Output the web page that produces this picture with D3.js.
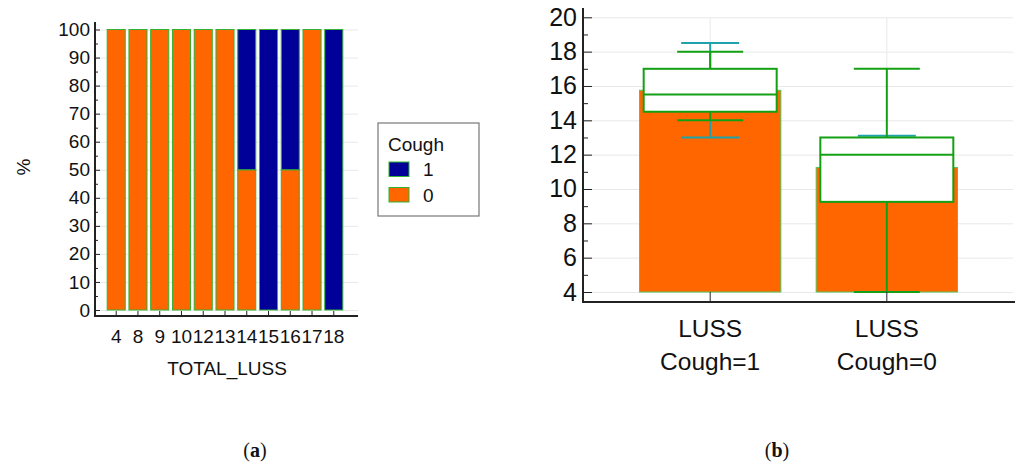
<!DOCTYPE html>
<html>
<head>
<meta charset="utf-8">
<script src="https://cdn.jsdelivr.net/npm/d3@7"></script>
<style>
  body { margin: 0; background: #fff; }
  svg { display: block; font-family: "Liberation Sans", Arial, sans-serif; }
</style>
</head>
<body>
<div id="chart"></div>
<script>
// (a) stacked percentage bars per TOTAL_LUSS score
const lussScores = ["4", "8", "9", "10", "12", "13", "14", "15", "16", "17", "18"];
const coughZeroPct = [100, 100, 100, 100, 100, 100, 50, 0, 50, 100, 0];
const coughOnePct  = [0, 0, 0, 0, 0, 0, 50, 100, 50, 0, 100];
const pctTicks = [0, 10, 20, 30, 40, 50, 60, 70, 80, 90, 100];

// (b) LUSS by cough group: mean bar, CI of mean, box and whiskers
const groups      = ["Cough=1", "Cough=0"];
const meanLuss    = [15.75, 11.25];
const ciLow       = [13, 9.4];
const ciHigh      = [18.5, 13.1];
const q1          = [14.5, 9.25];
const medianLuss  = [15.5, 12];
const q3          = [17, 13];
const whiskLow    = [14, 4];
const whiskHigh   = [18, 17];
const lussTicks   = [4, 6, 8, 10, 12, 14, 16, 18, 20];

const orange = "#ff6600", navy = "#000099", green = "#14a014", teal = "#1fa3aa";
const gridCol = "#e8e8e8", axisCol = "#222";

const svg = d3.select("#chart").append("svg")
    .attr("width", 1016)
    .attr("height", 465);

// ---------- panel (a) ----------
const a = svg.append("g");
const xA = d3.scaleBand().domain(lussScores).range([105, 345]).paddingInner(0.17).paddingOuter(0.1);
const yA = d3.scaleLinear().domain([0, 100]).range([310, 29.5]);

// gridlines
a.append("g")
    .attr("transform", "translate(95,0)")
    .call(d3.axisLeft(yA).tickValues(pctTicks).tickSize(-263).tickFormat(""))
    .call(g => g.select(".domain").remove())
    .selectAll("line").attr("stroke", gridCol);

const stackA = lussScores.map((s, i) => ({ score: s, zero: coughZeroPct[i], one: coughOnePct[i] }));

// orange part (Cough 0) at bottom
a.selectAll("rect.zero")
    .data(stackA.filter(d => d.zero > 0))
    .enter().append("rect")
    .attr("class", "zero")
    .attr("x", d => xA(d.score))
    .attr("y", d => yA(d.zero))
    .attr("width", xA.bandwidth())
    .attr("height", d => yA(0) - yA(d.zero))
    .attr("fill", orange)
    .attr("stroke", "#33b233")
    .attr("stroke-width", 1);

// navy part (Cough 1) stacked above
a.selectAll("rect.one")
    .data(stackA.filter(d => d.one > 0))
    .enter().append("rect")
    .attr("class", "one")
    .attr("x", d => xA(d.score))
    .attr("y", d => yA(d.zero + d.one))
    .attr("width", xA.bandwidth())
    .attr("height", d => yA(d.zero) - yA(d.zero + d.one))
    .attr("fill", navy)
    .attr("stroke", "#33b233")
    .attr("stroke-width", 1);

// y axis (ticks pointing inward, minor ticks every 5)
a.append("g")
    .attr("transform", "translate(95,0)")
    .call(d3.axisLeft(yA).tickValues(d3.range(5, 100, 10)).tickSize(-3).tickFormat(""))
    .call(g => g.select(".domain").remove())
    .selectAll("line").attr("stroke", axisCol);

a.append("g")
    .attr("transform", "translate(95,0)")
    .call(d3.axisLeft(yA).tickValues(pctTicks).tickSize(-5).tickPadding(5))
    .call(g => g.select(".domain").remove())
    .call(g => g.selectAll("line").attr("stroke", axisCol))
    .selectAll("text")
    .style("font-size", "19px")
    .attr("fill", "#111");

// x axis
a.append("g")
    .attr("transform", "translate(0,316)")
    .call(d3.axisBottom(xA).tickSize(-5).tickPadding(14))
    .call(g => g.select(".domain").remove())
    .call(g => g.selectAll("line").attr("stroke", axisCol))
    .selectAll("text")
    .style("font-size", "19px")
    .attr("fill", "#111");

a.append("line").attr("x1", 95).attr("x2", 95).attr("y1", 22).attr("y2", 317)
    .attr("stroke", axisCol).attr("stroke-width", 2);
a.append("line").attr("x1", 94).attr("x2", 358).attr("y1", 316).attr("y2", 316)
    .attr("stroke", axisCol).attr("stroke-width", 2);

a.append("text")
    .attr("x", 227).attr("y", 375)
    .attr("text-anchor", "middle")
    .style("font-size", "19px")
    .attr("fill", "#111")
    .text("TOTAL_LUSS");

a.append("text")
    .attr("transform", "translate(30,167) rotate(-90)")
    .attr("text-anchor", "middle")
    .style("font-size", "19px")
    .attr("fill", "#111")
    .text("%");

// legend
const legend = a.append("g");
legend.append("rect")
    .attr("x", 378).attr("y", 123).attr("width", 101).attr("height", 93)
    .attr("fill", "#fff").attr("stroke", "#777").attr("stroke-width", 1.2);
legend.append("text")
    .attr("x", 388).attr("y", 151)
    .style("font-size", "19px").attr("fill", "#111")
    .text("Cough");
const legendItems = [{ label: "1", color: navy, y: 162 }, { label: "0", color: orange, y: 187.5 }];
legend.selectAll("rect.sw")
    .data(legendItems)
    .enter().append("rect")
    .attr("class", "sw")
    .attr("x", 389).attr("y", d => d.y)
    .attr("width", 20).attr("height", 14.5)
    .attr("fill", d => d.color)
    .attr("stroke", "#33b233").attr("stroke-width", 1);
legend.selectAll("text.lab")
    .data(legendItems)
    .enter().append("text")
    .attr("class", "lab")
    .attr("x", 423).attr("y", d => d.y + 14)
    .style("font-size", "19px").attr("fill", "#111")
    .text(d => d.label);

// ---------- panel (b) ----------
const b = svg.append("g");
const xB = d3.scaleBand().domain(groups).range([583, 1014]).paddingInner(0.2).paddingOuter(0.32);
const yB = d3.scaleLinear().domain([4, 20]).range([292, 17.3]);
const cx = g => xB(g) + xB.bandwidth() / 2;

// gridlines
b.append("g")
    .attr("transform", "translate(583,0)")
    .call(d3.axisLeft(yB).tickValues(lussTicks).tickSize(-430).tickFormat(""))
    .call(g => g.select(".domain").remove())
    .selectAll("line").attr("stroke", gridCol);
b.selectAll("line.vgrid")
    .data(groups)
    .enter().append("line")
    .attr("class", "vgrid")
    .attr("x1", cx).attr("x2", cx)
    .attr("y1", 18).attr("y2", 292)
    .attr("stroke", gridCol);

const boxData = groups.map((g, i) => ({
    group: g, mean: meanLuss[i], ciL: ciLow[i], ciH: ciHigh[i],
    q1: q1[i], med: medianLuss[i], q3: q3[i], wL: whiskLow[i], wH: whiskHigh[i]
}));

const grp = b.selectAll("g.grp")
    .data(boxData)
    .enter().append("g")
    .attr("class", "grp");

// mean bar
grp.append("rect")
    .attr("x", d => xB(d.group))
    .attr("y", d => yB(d.mean))
    .attr("width", xB.bandwidth())
    .attr("height", d => yB(4) - yB(d.mean))
    .attr("fill", orange)
    .attr("stroke", "#55c455")
    .attr("stroke-width", 1);

// confidence interval of the mean (teal)
grp.append("line")
    .attr("x1", d => cx(d.group)).attr("x2", d => cx(d.group))
    .attr("y1", d => yB(d.ciL)).attr("y2", d => yB(d.ciH))
    .attr("stroke", teal).attr("stroke-width", 2);
["ciL", "ciH"].forEach(k => {
    grp.append("line")
        .attr("x1", d => cx(d.group) - 29).attr("x2", d => cx(d.group) + 29)
        .attr("y1", d => yB(d[k])).attr("y2", d => yB(d[k]))
        .attr("stroke", teal).attr("stroke-width", 2);
});

// whiskers (green)
grp.append("line")
    .attr("x1", d => cx(d.group)).attr("x2", d => cx(d.group))
    .attr("y1", d => yB(d.q3)).attr("y2", d => yB(d.wH))
    .attr("stroke", green).attr("stroke-width", 2);
grp.append("line")
    .attr("x1", d => cx(d.group)).attr("x2", d => cx(d.group))
    .attr("y1", d => yB(d.q1)).attr("y2", d => yB(d.wL))
    .attr("stroke", green).attr("stroke-width", 2);
["wL", "wH"].forEach(k => {
    grp.append("line")
        .attr("x1", d => cx(d.group) - 33).attr("x2", d => cx(d.group) + 33)
        .attr("y1", d => yB(d[k])).attr("y2", d => yB(d[k]))
        .attr("stroke", green).attr("stroke-width", 2);
});

// box
grp.append("rect")
    .attr("x", d => cx(d.group) - 66.5)
    .attr("y", d => yB(d.q3))
    .attr("width", 133)
    .attr("height", d => yB(d.q1) - yB(d.q3))
    .attr("fill", "#fff")
    .attr("stroke", green)
    .attr("stroke-width", 2);
grp.append("line")
    .attr("x1", d => cx(d.group) - 66.5).attr("x2", d => cx(d.group) + 66.5)
    .attr("y1", d => yB(d.med)).attr("y2", d => yB(d.med))
    .attr("stroke", green).attr("stroke-width", 2);

// y axis
b.append("g")
    .attr("transform", "translate(583,0)")
    .call(d3.axisLeft(yB).tickValues(d3.range(5, 20, 2)).tickSize(-5).tickFormat(""))
    .call(g => g.select(".domain").remove())
    .selectAll("line").attr("stroke", axisCol);
b.append("g")
    .attr("transform", "translate(583,0)")
    .call(d3.axisLeft(yB).tickValues(lussTicks).tickSize(-9).tickPadding(6))
    .call(g => g.select(".domain").remove())
    .call(g => g.selectAll("line").attr("stroke", axisCol))
    .selectAll("text")
    .style("font-size", "25px")
    .attr("fill", "#111");

// x axis ticks
b.append("g")
    .attr("transform", "translate(0,302)")
    .call(d3.axisBottom(xB).tickSize(-10).tickFormat(""))
    .call(g => g.select(".domain").remove())
    .selectAll("line").attr("stroke", axisCol);

b.append("line").attr("x1", 583).attr("x2", 583).attr("y1", 8).attr("y2", 303)
    .attr("stroke", axisCol).attr("stroke-width", 2);
b.append("line").attr("x1", 582).attr("x2", 1015).attr("y1", 302).attr("y2", 302)
    .attr("stroke", axisCol).attr("stroke-width", 2);

// category labels
const catLab = b.selectAll("text.cat")
    .data(groups)
    .enter().append("text")
    .attr("class", "cat")
    .attr("text-anchor", "middle")
    .style("font-size", "24.5px")
    .attr("fill", "#111");
catLab.append("tspan").attr("x", cx).attr("y", 337).text("LUSS");
catLab.append("tspan").attr("x", cx).attr("y", 370).text(d => d);

// ---------- captions ----------
const captions = [{ x: 255, letter: "a" }, { x: 777, letter: "b" }];
const cap = svg.selectAll("text.caption")
    .data(captions)
    .enter().append("text")
    .attr("class", "caption")
    .attr("x", d => d.x).attr("y", 457)
    .attr("text-anchor", "middle")
    .style("font-family", "'Liberation Serif', 'DejaVu Serif', serif")
    .style("font-size", "20px")
    .attr("fill", "#111");
cap.append("tspan").text("(");
cap.append("tspan").style("font-weight", "bold").text(d => d.letter);
cap.append("tspan").text(")");
</script>
</body>
</html>
